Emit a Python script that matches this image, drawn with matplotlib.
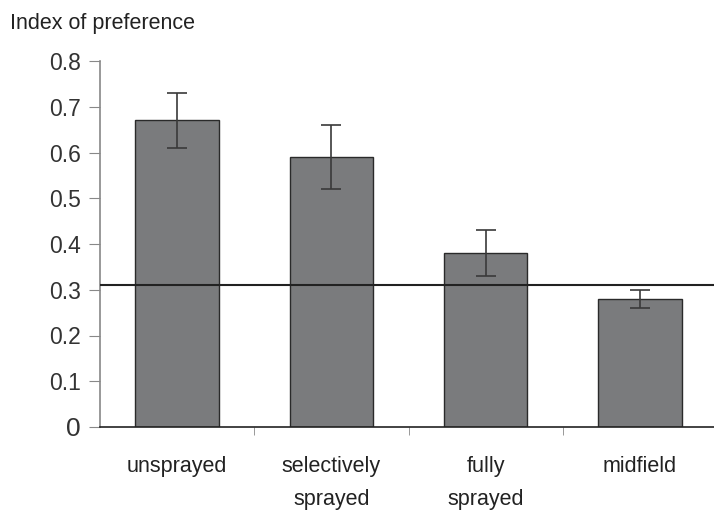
import matplotlib
matplotlib.use("Agg")
import matplotlib.pyplot as plt
import numpy as np

categories = ["unsprayed", "selectively\nsprayed", "fully\nsprayed", "midfield"]
values = [0.67, 0.59, 0.38, 0.28]
errors = [0.06, 0.07, 0.05, 0.02]
reference = 0.31
yticks = [0, 0.1, 0.2, 0.3, 0.4, 0.5, 0.6, 0.7, 0.8]
ytick_labels = ["0", "0.1", "0.2", "0.3", "0.4", "0.5", "0.6", "0.7", "0.8"]

plt.rcParams['font.family'] = ['Liberation Sans', 'DejaVu Sans']

fig = plt.figure(figsize=(7.14, 5.13), dpi=100)
ax = fig.add_axes([100/714, 1-427/513, 614/714, (427-61)/513])

x = np.arange(len(categories))
ax.bar(x, values, width=0.54, color="#7a7b7d", edgecolor="#2a2a2a", linewidth=1.0, zorder=2)
ax.errorbar(x, values, yerr=errors, fmt="none", ecolor="#3a3a3a", elinewidth=1.2,
            capsize=7, capthick=1.2, zorder=3)
ax.axhline(reference, color="#222222", linewidth=1.5, zorder=4)

ax.set_xlim(-0.5, 3.48)
ax.set_ylim(0, 0.8)
ax.set_yticks(yticks)
ax.set_yticklabels(ytick_labels, fontsize=16.5, color="#333333")
ax.get_yticklabels()[0].set_fontsize(19)

ax.set_xticks(x)
ax.set_xticklabels(categories, fontsize=15.5, color="#222222", linespacing=1.75, va="top")
ax.tick_params(axis="x", length=0, pad=21)
ax.set_xticks(np.arange(-0.5, 3.6, 1.0)[1:4], minor=True)
ax.tick_params(axis="x", which="minor", length=6, color="#888888", direction="out")
ax.tick_params(axis="y", length=8, color="#888888", direction="out", pad=6)

for s in ["top", "right"]:
    ax.spines[s].set_visible(False)
ax.spines["left"].set_color("#888888")
ax.spines["left"].set_linewidth(1.2)
ax.spines["bottom"].set_color("#222222")
ax.spines["bottom"].set_linewidth(1.2)

fig.text(10/714, 1-24/513, "Index of preference", fontsize=15.5, color="#222222", va="center", ha="left")

fig.savefig("out.png", dpi=100)
